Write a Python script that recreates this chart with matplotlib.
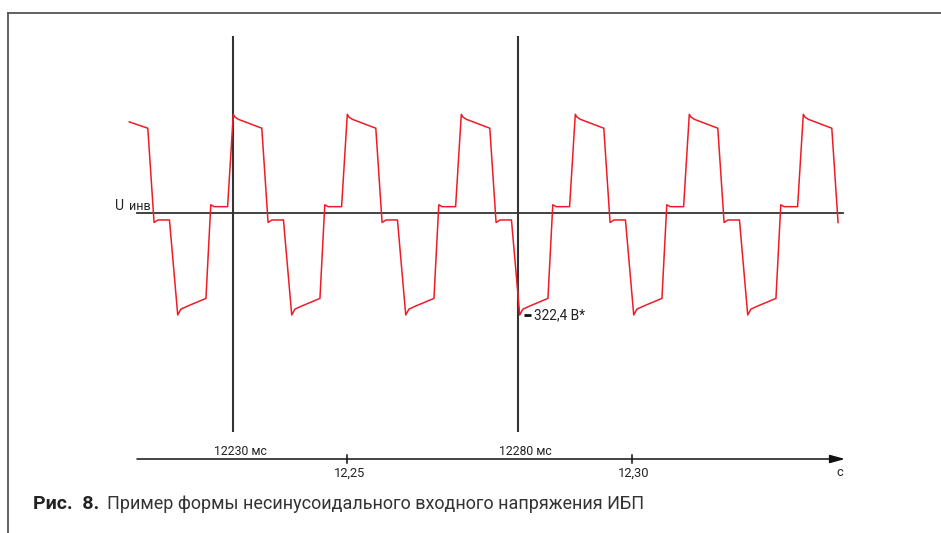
import matplotlib
matplotlib.use('Agg')
import matplotlib.pyplot as plt
from matplotlib.lines import Line2D

# Осцилограма вихідної напруги інвертора (час у мс, напруга у В)
t_ms = [
    12211.75, 12215.0, 12216.1, 12216.8, 12218.8, 12220.25, 12220.8, 12222.0, 12225.2, 12226.05, 12226.65, 12229.0,
    12230.0, 12230.3, 12230.9, 12235.0, 12236.1, 12236.8, 12238.8, 12240.25, 12240.8, 12242.0, 12245.2, 12246.05,
    12246.65, 12249.0,
    12250.0, 12250.3, 12250.9, 12255.0, 12256.1, 12256.8, 12258.8, 12260.25, 12260.8, 12262.0, 12265.2, 12266.05,
    12266.65, 12269.0,
    12270.0, 12270.3, 12270.9, 12275.0, 12276.1, 12276.8, 12278.8, 12280.25, 12280.8, 12282.0, 12285.2, 12286.05,
    12286.65, 12289.0,
    12290.0, 12290.3, 12290.9, 12295.0, 12296.1, 12296.8, 12298.8, 12300.25, 12300.8, 12302.0, 12305.2, 12306.05,
    12306.65, 12309.0,
    12310.0, 12310.3, 12310.9, 12315.0, 12316.1, 12316.8, 12318.8, 12320.25, 12320.8, 12322.0, 12325.2, 12326.05,
    12326.65, 12329.0,
    12330.0, 12330.3, 12330.9, 12335.0, 12336.1,
]
u_v = [
    288, 268, -30, -22, -22, -322.4, -304, -294, -270, 26, 20, 20,
    312, 303, 296, 268, -30, -22, -22, -322.4, -304, -294, -270, 26, 20, 20,
    312, 303, 296, 268, -30, -22, -22, -322.4, -304, -294, -270, 26, 20, 20,
    312, 303, 296, 268, -30, -22, -22, -322.4, -304, -294, -270, 26, 20, 20,
    312, 303, 296, 268, -30, -22, -22, -322.4, -304, -294, -270, 26, 20, 20,
    312, 303, 296, 268, -30, -22, -22, -322.4, -304, -294, -270, 26, 20, 20,
    312, 303, 296, 268, -30,
]

markers_ms = [12230, 12280]           # вертикальні позначки
marker_labels = ['12230 мс', '12280 мс']
ticks_ms = [12250, 12300]             # поділки шкали часу
tick_labels = ['12,25', '12,30']
u_min = -322.4
u_min_label = '322,4 В*'

W, H = 941, 533
fig = plt.figure(figsize=(W / 100, H / 100), dpi=100)
ax = fig.add_axes([0, 0, 1, 1])
ax.set_axis_off()

# масштаб: 5.7 px на мс, 102 px на 322.4 В
px_ms = 5.7
px_v = 102 / 322.4
x0_px, y0_px = 347.3, 213
ax.set_xlim(12250 - x0_px / px_ms, 12250 + (W - x0_px) / px_ms)
ax.set_ylim(-(H - y0_px) / px_v, y0_px / px_v)


def fy(py):
    return 1 - py / H


def fx(px):
    return px / W


dark = '#333333'
red = '#ee1c25'
ax_tr = ax.get_xaxis_transform()

# рамка
fig.add_artist(Line2D([fx(8.3), 1], [fy(12.7), fy(12.7)], color='#555555', lw=1.3))
fig.add_artist(Line2D([fx(8.3), fx(8.3)], [fy(12.7), 0], color='#555555', lw=1.3))

# нульова лінія
ax.axhline(0, xmin=fx(137), xmax=fx(843), color=dark, lw=1.3)
ax.text(fx(115.5), fy(209.5), 'U', transform=ax.transAxes, fontsize=10, color='#222222',
        va='baseline', ha='left', family='Roboto')
ax.text(fx(128.5), fy(209.5), 'инв', transform=ax.transAxes, fontsize=9, color='#222222',
        va='baseline', ha='left', family='Roboto')

# вертикальні позначки
for m, lab in zip(markers_ms, marker_labels):
    ax.plot([m, m], [fy(36), fy(432)], transform=ax_tr, color=dark, lw=1.5, solid_capstyle='butt')
    ax.text(m - 3.4, fy(455), lab, transform=ax_tr, fontsize=8.8, color='#222222', ha='left',
            va='baseline', family='Roboto')

# сигнал
ax.plot(t_ms, u_v, color=red, lw=1.1)

# мінімум
ax.plot([markers_ms[1] + 1.0, markers_ms[1] + 2.3], [u_min, u_min], color='#111111', lw=2,
        solid_capstyle='butt')
ax.text(markers_ms[1] + 2.7, u_min, u_min_label, fontsize=9.8, color='#222222', va='center', ha='left',
        family='Roboto')

# шкала часу
t_start = 12250 - (x0_px - 137) / px_ms
t_end = 12250 + (845 - x0_px) / px_ms
ax.annotate('', xy=(t_end, fy(459)), xytext=(t_start, fy(459)), xycoords=ax_tr, textcoords=ax_tr,
            arrowprops=dict(arrowstyle='-|>,head_length=0.9,head_width=0.25', color='#111111', lw=1.1,
                            shrinkA=0, shrinkB=0))
for t, lab in zip(ticks_ms, tick_labels):
    ax.plot([t, t], [fy(455), fy(463)], transform=ax_tr, color='#111111', lw=1.1)
    ax.text(t + 0.3, fy(476.5), lab, transform=ax_tr, fontsize=9.3, color='#222222', ha='center',
            va='baseline', family='Roboto')
ax.text(fx(840), fy(476.5), 'с', transform=ax.transAxes, fontsize=9.3, color='#222222', ha='center',
        va='baseline', family='Roboto')

# підпис
ax.text(fx(33), fy(509), 'Рис.  8.', transform=ax.transAxes, fontsize=14, fontweight='bold',
        color='#222222', va='baseline', ha='left', family='Roboto')
ax.text(fx(107), fy(509), 'Пример формы несинусоидального входного напряжения ИБП', transform=ax.transAxes,
        fontsize=13, color='#333333', va='baseline', ha='left', family='Roboto')

fig.savefig('out.png', dpi=100)
